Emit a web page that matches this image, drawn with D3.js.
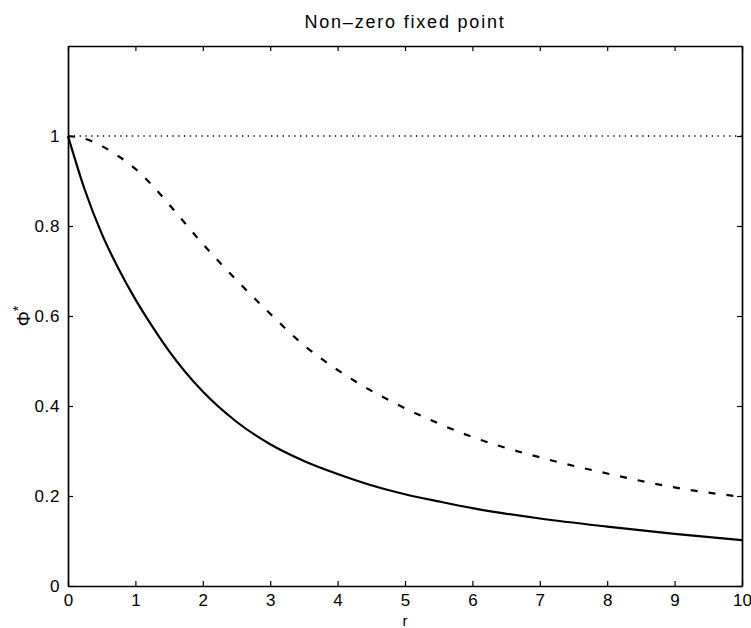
<!DOCTYPE html>
<html>
<head>
<meta charset="utf-8">
<script src="https://cdn.jsdelivr.net/npm/d3@7"></script>
<style>
  html, body { margin: 0; padding: 0; background: #fff; }
  svg text { font-family: "Liberation Sans", Arial, Helvetica, sans-serif; fill: #000; }
</style>
</head>
<body>
<svg id="chart" width="751" height="628"></svg>
<script>
// r sample points shared by both curves
const rValues = [0, 0.25, 0.5, 0.75, 1, 1.25, 1.5, 2, 2.5, 3, 3.5, 4, 4.5, 5, 5.5, 6, 7, 8, 9, 10];
// solid curve
const phiSolid = [1.0, 0.88, 0.783, 0.705, 0.637, 0.577, 0.522, 0.432, 0.365, 0.315, 0.278, 0.249, 0.224, 0.204, 0.188, 0.173, 0.150, 0.132, 0.116, 0.102];
// dashed curve
const phiDashed = [1.0, 0.994, 0.978, 0.955, 0.927, 0.89, 0.848, 0.76, 0.68, 0.605, 0.535, 0.48, 0.434, 0.395, 0.361, 0.331, 0.286, 0.25, 0.219, 0.198];
// dotted reference level
const dottedR = [0, 10];
const dottedPhi = [1, 1];

const xTicks = [0, 1, 2, 3, 4, 5, 6, 7, 8, 9, 10];
const yTicks = [0, 0.2, 0.4, 0.6, 0.8, 1];

const titleText = "Non\u2013zero fixed point";
const xLabel = "r";

const svg = d3.select("#chart");
const plotLeft = 68, plotRight = 742, plotTop = 46, plotBottom = 586;

const x = d3.scaleLinear().domain([0, 10]).range([plotLeft, plotRight]);
const y = d3.scaleLinear().domain([0, 1.2]).range([plotBottom, plotTop]);

const fmt = d3.format("~g");

// axes with inward ticks on all four sides
const gB = svg.append("g").attr("transform", `translate(0,${plotBottom})`)
  .call(d3.axisBottom(x).tickValues(xTicks).tickFormat(fmt).tickSizeInner(-5).tickSizeOuter(0).tickPadding(8));
const gL = svg.append("g").attr("transform", `translate(${plotLeft},0)`)
  .call(d3.axisLeft(y).tickValues(yTicks).tickFormat(fmt).tickSizeInner(-5).tickSizeOuter(0).tickPadding(8));
const gT = svg.append("g").attr("transform", `translate(0,${plotTop})`)
  .call(d3.axisTop(x).tickValues(xTicks).tickFormat("").tickSizeInner(-5).tickSizeOuter(0));
const gR = svg.append("g").attr("transform", `translate(${plotRight},0)`)
  .call(d3.axisRight(y).tickValues(yTicks).tickFormat("").tickSizeInner(-5).tickSizeOuter(0));

[gB, gL, gT, gR].forEach(g => {
  g.select(".domain").attr("stroke", "#000").attr("stroke-width", 1.7);
  g.selectAll(".tick line").attr("stroke", "#000").attr("stroke-width", 1.2);
  g.selectAll(".tick text").style("font-size", "17px");
});
gL.selectAll(".tick text").style("letter-spacing", "0.6px");

// curves
const lineGen = (ys) => d3.line()
  .x(d => x(d))
  .y((d, i) => y(ys[i]))
  .curve(d3.curveMonotoneX);

const plot = svg.append("g");
plot.append("path")
  .attr("d", d3.line().x(d => x(d[0])).y(d => y(d[1]))(dottedR.map((r, i) => [r, dottedPhi[i]])))
  .attr("fill", "none").attr("stroke", "#000").attr("stroke-width", 1.3)
  .attr("stroke-dasharray", "1.3,4.5");

plot.append("path")
  .attr("d", lineGen(phiDashed)(rValues))
  .attr("fill", "none").attr("stroke", "#000").attr("stroke-width", 2.2)
  .attr("stroke-dasharray", "7,11");

plot.append("path")
  .attr("d", lineGen(phiSolid)(rValues))
  .attr("fill", "none").attr("stroke", "#000").attr("stroke-width", 2.2);

// title
svg.append("text")
  .attr("x", (plotLeft + plotRight) / 2).attr("y", 28)
  .attr("text-anchor", "middle")
  .style("font-size", "18px").style("letter-spacing", "1.8px")
  .text(titleText);

// x-axis label
svg.append("text")
  .attr("x", (plotLeft + plotRight) / 2).attr("y", 626)
  .attr("text-anchor", "middle")
  .style("font-size", "15px")
  .text(xLabel);

// y-axis label: Φ with superscript star, rotated
const yl = svg.append("text")
  .attr("transform", `translate(30,${(plotTop + plotBottom) / 2}) rotate(-90)`)
  .attr("text-anchor", "middle")
  .style("font-size", "19px");
yl.append("tspan").text("\u03A6");
yl.append("tspan").attr("dy", "-0.5em").style("font-size", "14px").text("*");
</script>
</body>
</html>
